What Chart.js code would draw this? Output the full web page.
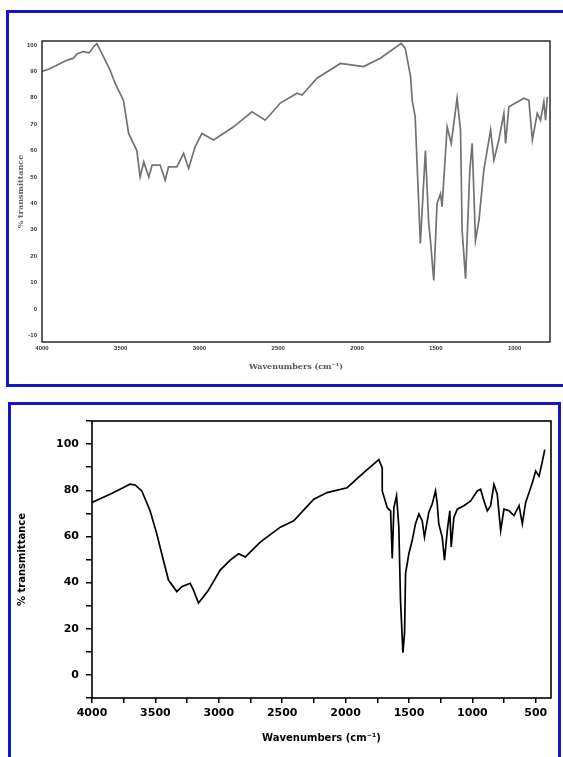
<!DOCTYPE html>
<html>
<head>
<meta charset="utf-8">
<script src="https://cdn.jsdelivr.net/npm/chart.js@4.4.1/dist/chart.umd.min.js"></script>
<style>
  html, body { margin: 0; padding: 0; background: #fff; }
  body { width: 563px; height: 757px; position: relative; overflow: hidden; }
  .panel { position: absolute; box-sizing: border-box; border: 3px solid #1515c4; }
  #panelTop { left: 6px; top: 10px; width: 600px; height: 377px; }
  #panelBottom { left: 8px; top: 402px; width: 553px; height: 400px; }
  canvas { position: absolute; left: 0; }
  #topChart { top: 0; }
  #bottomChart { top: 390px; }
</style>
</head>
<body>
<div class="panel" id="panelTop"></div>
<div class="panel" id="panelBottom"></div>
<canvas id="topChart" width="563" height="390"></canvas>
<canvas id="bottomChart" width="563" height="367"></canvas>
<script>
// Espectro superior (gris)
const topWavenumber = [4000, 3950, 3900, 3850, 3800, 3780, 3740, 3700, 3670, 3652, 3610, 3568, 3536, 3483, 3450, 3398, 3377, 3354, 3322, 3301, 3250, 3218, 3197, 3144, 3101, 3069, 3028, 2985, 2911, 2784, 2667, 2583, 2487, 2381, 2349, 2254, 2106, 1958, 1852, 1720, 1694, 1660, 1650, 1631, 1598, 1566, 1545, 1534, 1513, 1492, 1470, 1460, 1428, 1402, 1365, 1343, 1333, 1311, 1284, 1269, 1248, 1226, 1195, 1152, 1131, 1100, 1068, 1057, 1036, 941, 909, 887, 856, 835, 814, 803, 792];
const topTransmittance = [90, 91, 92.5, 94, 95, 96.5, 97.5, 97, 99.5, 100.5, 95.6, 90.5, 85.5, 79, 66.5, 60, 50, 55.7, 50, 54.5, 54.5, 48.8, 53.8, 53.8, 58.9, 53.2, 61.4, 66.5, 64, 69, 74.7, 71.5, 78, 81.7, 81, 87.4, 93, 91.8, 95, 100.6, 98.7, 88, 79, 72.8, 24.8, 60, 32.4, 26, 10.8, 40, 43.7, 38.7, 69, 62.7, 79.8, 67.8, 29.8, 11.5, 52.6, 62.7, 26, 33.6, 52.6, 67.8, 56.4, 64, 74.1, 62.7, 76.6, 79.8, 79, 64, 74.1, 71.5, 78.5, 71.5, 80.4];
const topXTicks = [4000, 3500, 3000, 2500, 2000, 1500, 1000];
const topYTicks = [100, 90, 80, 70, 60, 50, 40, 30, 20, 10, 0, -10];

// Espectro inferior (negro)
const botWavenumber = [4000, 3858, 3779, 3700, 3660, 3607, 3542, 3489, 3437, 3397, 3331, 3292, 3226, 3200, 3160, 3121, 3081, 2989, 2910, 2844, 2791, 2673, 2515, 2409, 2251, 2146, 1988, 1857, 1738, 1711, 1711, 1672, 1645, 1632, 1619, 1598, 1580, 1567, 1548, 1535, 1527, 1501, 1475, 1449, 1422, 1396, 1378, 1344, 1317, 1291, 1278, 1265, 1238, 1220, 1198, 1178, 1167, 1146, 1119, 1067, 1014, 961, 935, 909, 882, 856, 830, 804, 777, 751, 711, 672, 632, 606, 580, 553, 527, 501, 474, 448, 429];
const botTransmittance = [74.7, 78.3, 80.4, 82.6, 82.3, 79.7, 71.1, 61.1, 49.7, 41.1, 36.1, 38.2, 39.7, 36.8, 31.1, 33.9, 36.8, 45.4, 49.7, 52.5, 51.1, 57.5, 64, 66.8, 76.1, 79, 81.1, 87.6, 93.3, 89.7, 79.7, 72.5, 71.1, 50.4, 72.5, 77.6, 64, 32.5, 9.6, 18.2, 44, 52.5, 58.2, 65.4, 69.7, 66.8, 59.7, 70.4, 74, 79.7, 74.7, 65.4, 59.7, 49.7, 62.5, 71.1, 55.4, 68.2, 71.8, 73.3, 75.4, 79.7, 80.4, 75.4, 71.1, 73.3, 82.6, 78.3, 62.5, 71.8, 71.1, 69, 73.3, 65.4, 74.7, 79, 83.3, 88.3, 86.1, 92.6, 97.6];
const botXLabels = [4000, 3500, 3000, 2500, 2000, 1500, 1000, 500];
const botXMinor = [3750, 3250, 2750, 2250, 1750, 1250, 750];
const botYLabels = [100, 80, 60, 40, 20, 0];
const botYMinor = [110, 90, 70, 50, 30, 10, -10];

// Marco negro alrededor del área de la gráfica
const framePlugin = {
    id: 'frame',
    afterDatasetsDraw(chart, args, opts) {
        const { ctx, chartArea: a } = chart;
        ctx.save();
        ctx.strokeStyle = opts.color;
        ctx.lineWidth = opts.width;
        ctx.strokeRect(a.left, a.top, a.right - a.left, a.bottom - a.top);
        ctx.restore();
    }
};

function toPoints(xs, ys) {
    return xs.map((x, i) => ({ x: x, y: ys[i] }));
}

function setTicks(values) {
    return function (scale) {
        scale.ticks = values.slice().sort((a, b) => a - b).map(v => ({ value: v }));
    };
}

// ===================================
// GRÁFICA SUPERIOR
// ===================================
new Chart(document.getElementById('topChart'), {
    type: 'line',
    data: {
        datasets: [{
            data: toPoints(topWavenumber, topTransmittance),
            borderColor: '#727272',
            borderWidth: 1.7,
            pointRadius: 0,
            tension: 0,
            fill: false
        }]
    },
    options: {
        responsive: false,
        animation: false,
        layout: { padding: { left: 12, top: 41, right: 13, bottom: 14 } },
        plugins: {
            legend: { display: false },
            tooltip: { enabled: false },
            frame: { color: '#2a2a2a', width: 1.5 }
        },
        scales: {
            x: {
                type: 'linear',
                reverse: true,
                min: 775,
                max: 4000,
                afterBuildTicks: setTicks(topXTicks),
                afterFit: (s) => { s.height = 34; },
                border: { display: false },
                grid: { display: false, drawTicks: false },
                ticks: {
                    padding: 3,
                    color: '#333',
                    font: { family: 'Liberation Sans', size: 6, weight: 'bold' },
                    maxRotation: 0,
                    callback: (v) => String(v)
                },
                title: {
                    display: true,
                    text: 'Wavenumbers (cm\u207B\u00B9)',
                    color: '#555',
                    font: { family: 'DejaVu Serif', size: 8, weight: 'bold' },
                    padding: { top: 4, bottom: 4 }
                }
            },
            y: {
                min: -12.5,
                max: 101.5,
                afterBuildTicks: setTicks(topYTicks),
                afterFit: (s) => { s.width = 30; },
                border: { display: false },
                grid: { display: false, drawTicks: false },
                ticks: {
                    padding: 5,
                    color: '#333',
                    font: { family: 'Liberation Sans', size: 6, weight: 'bold' },
                    callback: (v) => String(v)
                },
                title: {
                    display: true,
                    text: '% transmittance',
                    color: '#666',
                    font: { family: 'DejaVu Serif', size: 8, weight: 'bold' },
                    padding: { top: 4, bottom: 4 }
                }
            }
        }
    },
    plugins: [framePlugin]
});

// ===================================
// GRÁFICA INFERIOR
// ===================================
new Chart(document.getElementById('bottomChart'), {
    type: 'line',
    data: {
        datasets: [{
            data: toPoints(botWavenumber, botTransmittance),
            borderColor: '#000',
            borderWidth: 1.7,
            pointRadius: 0,
            tension: 0,
            fill: false
        }]
    },
    options: {
        responsive: false,
        animation: false,
        layout: { padding: { left: 12, top: 31, right: 12, bottom: 9 } },
        plugins: {
            legend: { display: false },
            tooltip: { enabled: false },
            frame: { color: '#000', width: 1.6 }
        },
        scales: {
            x: {
                type: 'linear',
                reverse: true,
                min: 380,
                max: 4000,
                afterBuildTicks: setTicks(botXLabels.concat(botXMinor)),
                afterFit: (s) => { s.height = 50; },
                border: { display: false },
                grid: {
                    drawOnChartArea: false,
                    drawTicks: true,
                    tickLength: 5,
                    color: '#000',
                    lineWidth: 1.5
                },
                ticks: {
                    padding: 4,
                    color: '#000',
                    maxRotation: 0,
                    autoSkip: false,
                    font: { family: 'DejaVu Sans', size: 11, weight: 'bold' },
                    callback: (v) => botXLabels.includes(v) ? String(v) : ''
                },
                title: {
                    display: true,
                    text: 'Wavenumbers (cm\u207B\u00B9)',
                    color: '#000',
                    font: { family: 'DejaVu Sans', size: 10, weight: 'bold' },
                    padding: { top: 4, bottom: 4 }
                }
            },
            y: {
                min: -10,
                max: 110,
                afterBuildTicks: setTicks(botYLabels.concat(botYMinor)),
                afterFit: (s) => { s.width = 80; },
                border: { display: false },
                grid: {
                    drawOnChartArea: false,
                    drawTicks: true,
                    tickLength: 6,
                    color: '#000',
                    lineWidth: 1.5
                },
                ticks: {
                    padding: 7,
                    color: '#000',
                    autoSkip: false,
                    font: { family: 'DejaVu Sans', size: 11, weight: 'bold' },
                    callback: (v) => botYLabels.includes(v) ? String(v) : ''
                },
                title: {
                    display: true,
                    text: '% transmittance',
                    color: '#000',
                    font: { family: 'DejaVu Sans', size: 10, weight: 'bold' },
                    padding: { top: 4, bottom: 4 }
                }
            }
        }
    },
    plugins: [framePlugin]
});
</script>
</body>
</html>
